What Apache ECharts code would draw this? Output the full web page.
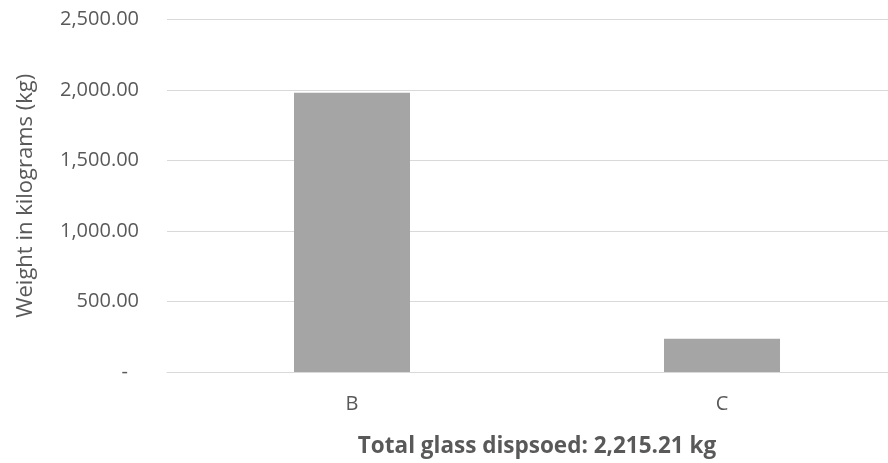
<!DOCTYPE html>
<html>
<head>
<meta charset="utf-8">
<script src="https://cdn.jsdelivr.net/npm/echarts@6/dist/echarts.min.js"></script>
<style>
  html, body { margin: 0; padding: 0; background: #fff; overflow: hidden; }
  /* the plot runs slightly past the right edge of the window */
  #chart { width: 907px; height: 463px; }
</style>
</head>
<body>
<div id="chart"></div>
<script>
// Glass disposed per site, in kilograms
const categories = ['B', 'C'];
const weights = [1980.00, 235.21];
const yTicks = [0, 500, 1000, 1500, 2000, 2500];

const fmt = v => v.toLocaleString('en-US', { minimumFractionDigits: 2, maximumFractionDigits: 2 });
const total = weights.reduce((a, b) => a + b, 0);

const chart = echarts.init(document.getElementById('chart'));
chart.setOption({
  animation: false,
  textStyle: { fontFamily: 'Open Sans' },
  grid: { left: 167, right: 0, top: 19.5, bottom: 84.7, containLabel: false },
  xAxis: {
    type: 'category',
    data: categories,
    axisLine: { lineStyle: { color: '#D9D9D9', width: 1 } },
    axisTick: { show: false },
    axisLabel: { color: '#595959', fontSize: 20, margin: 22 },
    name: 'Total glass dispsoed: ' + fmt(total) + ' kg',
    nameLocation: 'middle',
    nameGap: 63,
    nameTextStyle: { color: '#595959', fontSize: 22.5, fontWeight: 'bold' }
  },
  yAxis: {
    type: 'value',
    min: yTicks[0],
    max: yTicks[yTicks.length - 1],
    interval: yTicks[1] - yTicks[0],
    axisLine: { show: false },
    axisTick: { show: false },
    splitLine: { lineStyle: { color: '#D9D9D9', width: 1 } },
    axisLabel: {
      color: '#595959',
      fontSize: 20,
      margin: 28,
      formatter: v => v === 0 ? '{z|-}' : fmt(v),
      rich: { z: { color: '#595959', fontSize: 20, padding: [0, 11, 0, 0] } }
    },
    name: 'Weight in kilograms (kg)',
    nameLocation: 'middle',
    nameGap: 130,
    nameTextStyle: { color: '#595959', fontSize: 22 }
  },
  series: [{
    type: 'bar',
    data: weights,
    barWidth: '31.35%',
    itemStyle: { color: '#A5A5A5' }
  }]
});
</script>
</body>
</html>
